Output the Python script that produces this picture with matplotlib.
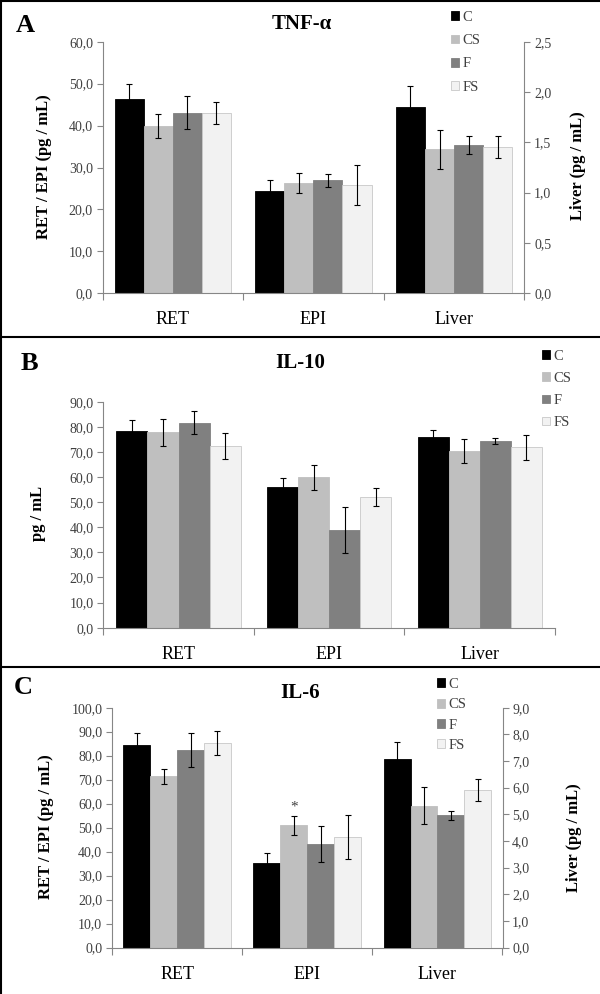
import matplotlib
matplotlib.use("Agg")
import matplotlib.pyplot as plt
from matplotlib.ticker import FuncFormatter, FixedLocator
from matplotlib.lines import Line2D
import numpy as np

# === Data ===
groups = ["C", "CS", "F", "FS"]
tissues = ["RET", "EPI", "Liver"]

# TNF-alpha: RET / EPI on left axis, Liver on right axis
tnf_ret_epi = [[46.4, 24.4], [39.9, 26.4], [43.1, 26.9], [43.0, 25.8]]
tnf_ret_epi_err = [[3.5, 2.7], [2.9, 2.4], [3.9, 1.5], [2.6, 4.8]]
tnf_liver = [1.85, 1.43, 1.47, 1.45]
tnf_liver_err = [0.21, 0.19, 0.09, 0.11]

# IL-10: all on one axis
il10 = [[78.3, 56.0, 75.8], [77.8, 59.9, 70.4], [81.6, 38.8, 74.3], [72.3, 52.0, 71.9]]
il10_err = [[4.4, 3.7, 2.8], [5.3, 4.9, 4.8], [4.6, 9.2, 1.1], [5.1, 3.5, 5.0]]

# IL-6: RET / EPI on left axis, Liver on right axis
il6_ret_epi = [[84.6, 35.4], [71.4, 51.0], [82.2, 43.0], [85.2, 46.0]]
il6_ret_epi_err = [[4.7, 4.0], [3.2, 3.9], [7.1, 7.5], [5.0, 9.2]]
il6_liver = [7.08, 5.32, 4.96, 5.92]
il6_liver_err = [0.65, 0.70, 0.18, 0.41]

# === Style ===
COLORS = ["#000000", "#bfbfbf", "#808080", "#f2f2f2"]
EDGES = ["#000000", "#bfbfbf", "#808080", "#c8c8c8"]
AXIS_COLOR = "#868686"
TEXT_COLOR = "#404040"
SERIF = ["Liberation Serif", "DejaVu Serif"]
plt.rcParams["font.family"] = SERIF

W, H = 600, 994
BAR_W = 0.2065

fig = plt.figure(figsize=(W / 100, H / 100), dpi=100)


def rect(left, top, right, bottom):
    return [left / W, 1 - bottom / H, (right - left) / W, (bottom - top) / H]


comma = FuncFormatter(lambda v, p: f"{v:.1f}".replace(".", ","))


def style_axis(ax, right=False):
    for s in ["top", "right", "left", "bottom"]:
        ax.spines[s].set_visible(False)
    side = "right" if right else "left"
    ax.spines[side].set_visible(True)
    ax.spines[side].set_color(AXIS_COLOR)
    ax.spines[side].set_linewidth(0.8)
    ax.yaxis.set_major_formatter(comma)
    ax.tick_params(axis="y", length=4, width=0.8, color=AXIS_COLOR,
                   labelsize=10, labelcolor=TEXT_COLOR, pad=3)


def setup_x(ax):
    ax.spines["bottom"].set_visible(True)
    ax.spines["bottom"].set_color(AXIS_COLOR)
    ax.spines["bottom"].set_linewidth(0.8)
    ax.set_xlim(-0.5, 2.5)
    ax.xaxis.set_major_locator(FixedLocator([-0.5, 0.5, 1.5, 2.5]))
    ax.xaxis.set_major_formatter(FuncFormatter(lambda v, p: ""))
    ax.tick_params(axis="x", which="major", length=5, width=0.8, color=AXIS_COLOR)
    ax.xaxis.set_minor_locator(FixedLocator([0, 1, 2]))
    ax.set_xticklabels(tissues, minor=True)
    ax.tick_params(axis="x", which="minor", length=0, labelsize=13,
                   labelcolor="#000000", pad=13)


def bars(ax, positions, values, errs, i):
    ax.bar(positions, values, width=BAR_W, color=COLORS[i], edgecolor=EDGES[i],
           linewidth=0.6, zorder=2, label=groups[i])
    ax.errorbar(positions, values, yerr=errs, fmt="none", ecolor="black",
                elinewidth=0.8, capsize=2, capthick=0.8, zorder=3)


def legend(ax, x, y, spacing):
    handles = [plt.Rectangle((0, 0), 1, 1, facecolor=COLORS[i], edgecolor=EDGES[i],
                             linewidth=0.6) for i in range(4)]
    fig.legend(handles, groups, loc="upper left", bbox_to_anchor=(x / W, 1 - y / H),
               frameon=False, fontsize=10.5, handlelength=0.55, handleheight=0.55,
               handletextpad=0.25, labelspacing=spacing, borderpad=0, borderaxespad=0,
               labelcolor=TEXT_COLOR)


offsets = [(i - 1.5) * BAR_W for i in range(4)]

# === Panel A: TNF-alpha ===
axA = fig.add_axes(rect(102.6, 41.7, 524.3, 293.3))
axA2 = axA.twinx()
for i in range(4):
    bars(axA, [0 + offsets[i], 1 + offsets[i]], tnf_ret_epi[i], tnf_ret_epi_err[i], i)
    bars(axA2, [2 + offsets[i]], [tnf_liver[i]], [tnf_liver_err[i]], i)
axA.set_ylim(0, 60)
axA.set_yticks(np.arange(0, 61, 10))
axA2.set_ylim(0, 2.5)
axA2.set_yticks(np.arange(0, 2.51, 0.5))
style_axis(axA)
style_axis(axA2, right=True)
setup_x(axA)
axA2.tick_params(axis="x", which="both", length=0, labelbottom=False)
axA.patch.set_visible(False)

fig.text(25 / W, 1 - 25 / H, "A", fontsize=19, fontweight="bold", ha="center", va="center")
fig.text(302 / W, 1 - 24 / H, "TNF-α", fontsize=15, fontweight="bold", ha="center", va="center")
fig.text(44 / W, 1 - 167 / H, "RET / EPI (pg / mL)", fontsize=12, fontweight="bold",
         rotation=90, ha="center", va="center")
fig.text(578 / W, 1 - 166 / H, "Liver (pg / mL)", fontsize=12, fontweight="bold",
         rotation=90, ha="center", va="center")
legend(axA, 451, 11, 0.7)

# === Panel B: IL-10 ===
axB = fig.add_axes(rect(103.3, 401.7, 555, 627.7))
for i in range(4):
    bars(axB, [k + offsets[i] for k in range(3)], il10[i], il10_err[i], i)
axB.set_ylim(0, 90)
axB.set_yticks(np.arange(0, 91, 10))
style_axis(axB)
setup_x(axB)

fig.text(29 / W, 1 - 363 / H, "B", fontsize=19, fontweight="bold", ha="center", va="center")
fig.text(300 / W, 1 - 363 / H, "IL-10", fontsize=15, fontweight="bold", ha="center", va="center")
fig.text(38 / W, 1 - 513 / H, "pg / mL", fontsize=12, fontweight="bold",
         rotation=90, ha="center", va="center")
legend(axB, 542, 350, 0.62)

# === Panel C: IL-6 ===
axC = fig.add_axes(rect(112, 707.7, 502.5, 947.5))
axC2 = axC.twinx()
for i in range(4):
    bars(axC, [0 + offsets[i], 1 + offsets[i]], il6_ret_epi[i], il6_ret_epi_err[i], i)
    bars(axC2, [2 + offsets[i]], [il6_liver[i]], [il6_liver_err[i]], i)
axC.set_ylim(0, 100)
axC.set_yticks(np.arange(0, 101, 10))
axC2.set_ylim(0, 9)
axC2.set_yticks(np.arange(0, 9.01, 1))
style_axis(axC)
style_axis(axC2, right=True)
setup_x(axC)
axC2.tick_params(axis="x", which="both", length=0, labelbottom=False)
axC.patch.set_visible(False)

# significance mark over CS in EPI
axC.text(1 + offsets[1], il6_ret_epi[1][1] + il6_ret_epi_err[1][1] + 1.0, "*",
         ha="center", va="bottom", fontsize=11, color="#404040")

fig.text(23 / W, 1 - 687 / H, "C", fontsize=19, fontweight="bold", ha="center", va="center")
fig.text(300 / W, 1 - 693 / H, "IL-6", fontsize=15, fontweight="bold", ha="center", va="center")
fig.text(46 / W, 1 - 827 / H, "RET / EPI (pg / mL)", fontsize=12, fontweight="bold",
         rotation=90, ha="center", va="center")
fig.text(574 / W, 1 - 838 / H, "Liver (pg / mL)", fontsize=12, fontweight="bold",
         rotation=90, ha="center", va="center")
legend(axC, 437, 678, 0.5)

# === Panel borders ===
for y in [1, 337, 667]:
    fig.add_artist(Line2D([0, 1], [1 - y / H, 1 - y / H], color="black", lw=1.5,
                          transform=fig.transFigure))
fig.add_artist(Line2D([1 / W, 1 / W], [0, 1], color="black", lw=1.5,
                      transform=fig.transFigure))

fig.savefig("out.png", dpi=100)
